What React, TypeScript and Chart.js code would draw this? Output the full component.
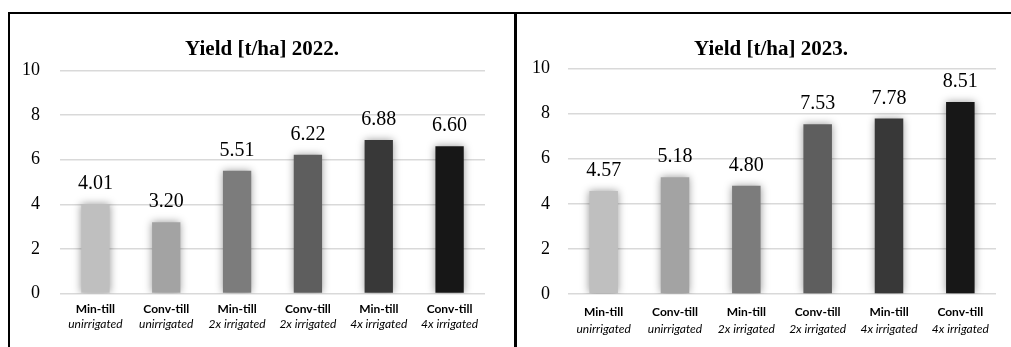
import React, { useEffect, useRef } from "react";
import { Chart, registerables } from "chart.js";

Chart.register(...registerables);

// Treatment labels: tillage on the first line, irrigation regime on the second
const tillage = ["Min-till", "Conv-till", "Min-till", "Conv-till", "Min-till", "Conv-till"];
const irrigation = [
  "unirrigated",
  "unirrigated",
  "2x irrigated",
  "2x irrigated",
  "4x irrigated",
  "4x irrigated",
];

// Yield in t/ha
const yield2022 = [4.01, 3.2, 5.51, 6.22, 6.88, 6.6];
const yield2023 = [4.57, 5.18, 4.8, 7.53, 7.78, 8.51];

const titles = ["Yield [t/ha] 2022.", "Yield [t/ha] 2023."];

const barColors = ["#bfbfbf", "#a3a3a3", "#7c7c7c", "#5e5e5e", "#383838", "#171717"];

const yMin = 0;
const yMax = 10;
const yStep = 2;

const SERIF = "'Liberation Serif', 'Times New Roman', serif";
const SANS = "Lato, 'Open Sans', sans-serif";

type Layout = {
  width: number;
  height: number;
  padTop: number;
  padRight: number;
  yWidth: number;
  yPad: number;
  titleX: number;
  titleY: number;
  x1Height: number;
  x1Pad: number;
  x2Height: number;
  x2Pad: number;
};

// Centred bold heading, soft shadow under the bars and value labels above them
const barDecor = {
  id: "barDecor",
  afterDraw(chart: any, _args: any, opts: any) {
    const ctx = chart.ctx;
    ctx.save();
    ctx.font = `bold 21px ${SERIF}`;
    ctx.fillStyle = "#000";
    ctx.textAlign = "center";
    ctx.textBaseline = "middle";
    ctx.fillText(opts.text, opts.x, opts.y);
    ctx.restore();
  },
  beforeDatasetsDraw(chart: any) {
    const ctx = chart.ctx;
    ctx.save();
    ctx.shadowColor = "rgba(0,0,0,0.4)";
    ctx.shadowBlur = 8;
    ctx.shadowOffsetX = 0;
    ctx.shadowOffsetY = 0;
  },
  afterDatasetsDraw(chart: any) {
    const ctx = chart.ctx;
    ctx.restore();
    ctx.save();
    ctx.font = `20px ${SERIF}`;
    ctx.fillStyle = "#000";
    ctx.textAlign = "center";
    ctx.textBaseline = "alphabetic";
    chart.data.datasets.forEach((ds: any, di: number) => {
      const meta = chart.getDatasetMeta(di);
      meta.data.forEach((bar: any, i: number) => {
        const v = ds.data[i] as number;
        ctx.fillText(v.toFixed(2), bar.x, bar.y - 15);
      });
    });
    ctx.restore();
  },
};

function YieldChart({ values, title, layout }: { values: number[]; title: string; layout: Layout }) {
  const ref = useRef<HTMLCanvasElement | null>(null);

  useEffect(() => {
    if (!ref.current) return;
    const chart = new Chart(ref.current, {
      type: "bar",
      data: {
        labels: tillage,
        datasets: [
          {
            data: values,
            backgroundColor: barColors,
            borderWidth: 0,
            barPercentage: 0.4,
            categoryPercentage: 1,
            xAxisID: "x",
            yAxisID: "y",
          },
        ],
      },
      options: {
        responsive: false,
        animation: false,
        events: [],
        layout: {
          padding: { left: 0, right: layout.padRight, top: layout.padTop, bottom: 0 },
        },
        plugins: {
          legend: { display: false },
          tooltip: { enabled: false },
          title: { display: false },
          barDecor: { text: title, x: layout.titleX, y: layout.titleY },
        } as any,
        scales: {
          x: {
            type: "category",
            position: "bottom",
            weight: 1,
            offset: true,
            grid: { display: false, drawTicks: false },
            border: { display: false },
            ticks: {
              color: "#000",
              padding: layout.x1Pad,
              maxRotation: 0,
              autoSkip: false,
              font: { family: SANS, size: 12, weight: "bold", lineHeight: 1.2 },
            },
            afterFit(scale: any) {
              scale.height = layout.x1Height;
            },
          },
          x2: {
            type: "category",
            position: "bottom",
            weight: 2,
            offset: true,
            labels: irrigation,
            grid: { display: false, drawTicks: false },
            border: { display: false },
            ticks: {
              color: "#000",
              padding: layout.x2Pad,
              maxRotation: 0,
              autoSkip: false,
              font: { family: SANS, size: 12, style: "italic", lineHeight: 1.2 },
            },
            afterFit(scale: any) {
              scale.height = layout.x2Height;
            },
          },
          y: {
            min: yMin,
            max: yMax,
            border: { display: false },
            grid: { color: "#d9d9d9", lineWidth: 1.5, drawTicks: false },
            ticks: {
              stepSize: yStep,
              color: "#000",
              padding: layout.yPad,
              font: { family: SERIF, size: 18 },
            },
            afterFit(scale: any) {
              scale.width = layout.yWidth;
            },
          },
        },
      },
      plugins: [barDecor],
    });
    return () => chart.destroy();
  }, [values, title, layout]);

  return (
    <canvas
      ref={ref}
      width={layout.width}
      height={layout.height}
      style={{ display: "block", width: layout.width, height: layout.height }}
    />
  );
}

const leftLayout: Layout = {
  width: 504,
  height: 333,
  padTop: 56.5,
  padRight: 29,
  yWidth: 50,
  yPad: 20,
  titleX: 252,
  titleY: 36,
  x1Height: 22,
  x1Pad: 8.4,
  x2Height: 31.5,
  x2Pad: 1.8,
};

const rightLayout: Layout = {
  width: 494,
  height: 333,
  padTop: 54.5,
  padRight: 15,
  yWidth: 51,
  yPad: 18,
  titleX: 254,
  titleY: 36,
  x1Height: 26,
  x1Pad: 11,
  x2Height: 27,
  x2Pad: 1.5,
};

export default function App() {
  const line = "#000";
  return (
    <div
      style={{
        position: "absolute",
        left: 0,
        top: 0,
        width: 1011,
        height: 347,
        background: "#fff",
        overflow: "hidden",
      }}
    >
      <div style={{ position: "absolute", left: 8, top: 12, width: 1003, height: 2, background: line }} />
      <div style={{ position: "absolute", left: 8, top: 12, width: 2, height: 335, background: line }} />
      <div style={{ position: "absolute", left: 514, top: 12, width: 3, height: 335, background: line }} />
      <div style={{ position: "absolute", left: 10, top: 14 }}>
        <YieldChart values={yield2022} title={titles[0]} layout={leftLayout} />
      </div>
      <div style={{ position: "absolute", left: 517, top: 14 }}>
        <YieldChart values={yield2023} title={titles[1]} layout={rightLayout} />
      </div>
    </div>
  );
}
